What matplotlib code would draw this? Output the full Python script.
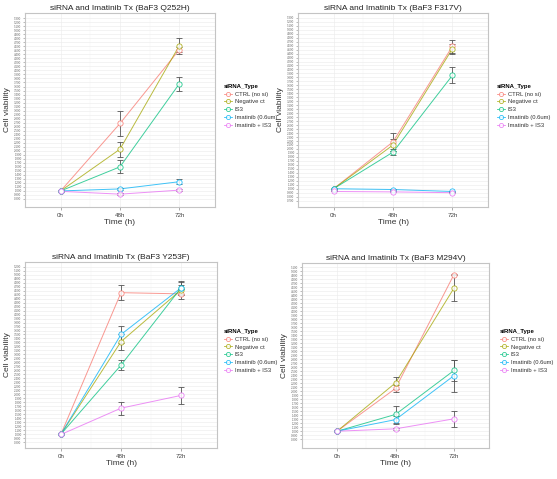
import matplotlib
matplotlib.use("Agg")
import matplotlib.pyplot as plt
import numpy as np
from matplotlib.lines import Line2D

plt.rcParams['font.family'] = ['Liberation Sans', 'DejaVu Sans']

times = ["0h", "48h", "72h"]
series_names = ["CTRL (no si)", "Negative ct", "IS3", "Imatinib (0.6um)", "Imatinib + IS3"]
colors = ["#F8766D", "#A3A500", "#00BF7D", "#00B0F6", "#E76BF3"]

titles = ["siRNA and Imatinib Tx (BaF3 Q252H)", "siRNA and Imatinib Tx (BaF3 F317V)",
          "siRNA and Imatinib Tx (BaF3 Y253F)", "siRNA and Imatinib Tx (BaF3 M294V)"]

# panel 1: Q252H
q252h_mean = [[1.00, 2.68, 4.52], [1.00, 2.04, 4.62], [1.00, 1.60, 3.67], [1.00, 1.05, 1.23], [0.99, 0.92, 1.02]]
q252h_err = [[0.0, 0.32, 0.06], [0.0, 0.19, 0.20], [0.0, 0.16, 0.17], [0.0, 0.03, 0.06], [0.0, 0.02, 0.02]]
# panel 2: F317V
f317v_mean = [[1.00, 2.18, 4.58], [1.00, 2.10, 4.52], [1.00, 1.92, 3.85], [1.00, 0.98, 0.93], [0.93, 0.92, 0.90]]
f317v_err = [[0.0, 0.22, 0.16], [0.0, 0.14, 0.12], [0.0, 0.08, 0.20], [0.0, 0.02, 0.02], [0.0, 0.01, 0.01]]
# panel 3: Y253F
y253f_mean = [[1.00, 4.55, 4.52], [1.00, 3.32, 4.62], [1.00, 2.73, 4.67], [1.00, 3.50, 4.67], [0.99, 1.65, 1.97]]
y253f_err = [[0.0, 0.18, 0.12], [0.0, 0.20, 0.12], [0.0, 0.13, 0.15], [0.0, 0.22, 0.18], [0.0, 0.16, 0.21]]
# panel 4: M294V
m294v_mean = [[1.00, 2.07, 4.92], [1.00, 2.21, 4.58], [1.00, 1.42, 2.52], [1.00, 1.29, 2.39], [1.00, 1.06, 1.31]]
m294v_err = [[0.0, 0.08, 0.02], [0.0, 0.15, 0.33], [0.0, 0.22, 0.27], [0.0, 0.10, 0.40], [0.0, 0.03, 0.20]]

means = [q252h_mean, f317v_mean, y253f_mean, m294v_mean]
errs = [q252h_err, f317v_err, y253f_err, m294v_err]
ylims = [(0.60, 5.43), (0.54, 5.42), (0.65, 5.32), (0.58, 5.21)]

W, H = 557, 479
boxes = [(25, 13, 215, 207), (298, 13, 488, 207), (25, 262, 217, 448), (302, 263, 489, 448)]
legend_pos = [(220, 80), (493, 80), (220, 325), (496, 325)]
ylabel_x = [8, 281, 8, 284]

fig = plt.figure(figsize=(W / 100, H / 100), dpi=100)
fig.patch.set_facecolor("white")

x = np.arange(1, len(times) + 1)
for i in range(4):
    l, t, r, b = boxes[i]
    ax = fig.add_axes([l / W, (H - b) / H, (r - l) / W, (b - t) / H])
    ax.set_facecolor("white")
    lo, hi = ylims[i]
    ticks = np.arange(np.ceil((lo + 0.15) * 10) / 10, hi - 0.1, 0.1)
    ax.set_yticks(ticks)
    ax.set_yticklabels([f"{v:.3f}" for v in ticks], fontsize=2.1, color="#666666")
    ax.set_xticks(x)
    ax.set_xticklabels(times, fontsize=4.5, color="#444444")
    ax.set_xticks([1.5, 2.5], minor=True)
    ax.tick_params(axis="y", length=1.5, width=0.4, pad=1, colors="#888888")
    ax.tick_params(axis="x", length=2, width=0.5, pad=2, colors="#888888")
    ax.tick_params(axis="x", which="minor", length=0)
    for lab in ax.get_xticklabels():
        lab.set_color("#444444")
    for lab in ax.get_yticklabels():
        lab.set_color("#666666")
    ax.grid(True, which="major", color="#EBEBEB", linewidth=0.4)
    ax.grid(True, which="minor", axis="x", color="#F4F4F4", linewidth=0.3)
    ax.set_axisbelow(True)
    for sp in ax.spines.values():
        sp.set_color("#C4C4C4")
        sp.set_linewidth(0.8)
    for j in range(len(series_names)):
        m = means[i][j]
        e = errs[i][j]
        ax.plot(x, m, color=colors[j], linewidth=0.7, alpha=0.75, zorder=3)
        ax.errorbar(x, m, yerr=e, fmt="none", ecolor="#555555", elinewidth=0.6, capsize=2.2, capthick=0.6, zorder=4)
        ax.plot(x, m, linestyle="none", marker="o", markersize=3.8, markerfacecolor="white",
                markeredgecolor=colors[j], markeredgewidth=0.6, alpha=0.85, zorder=5)
    ax.set_xlim(0.4, 3.6)
    ax.set_ylim(lo, hi)
    ax.set_title(titles[i], fontsize=6, color="#222222", pad=2)
    ax.set_xlabel("Time (h)", fontsize=6, color="#333333", labelpad=1)
    fig.text(ylabel_x[i] / W, 1 - ((t + b) / 2) / H, "Cell viability", rotation=90,
             fontsize=6, color="#333333", ha="center", va="center")

    handles = [Line2D([0], [0], color=colors[j], linewidth=0.6, alpha=0.8, marker="o", markersize=3,
                      markerfacecolor="white", markeredgecolor=colors[j], markeredgewidth=0.6)
               for j in range(len(series_names))]
    lx, ly = legend_pos[i]
    leg = fig.legend(handles, series_names, loc="upper left", bbox_to_anchor=(lx / W, 1 - ly / H),
                     frameon=False, fontsize=4.2, title="siRNA_Type", title_fontsize=4.3,
                     handlelength=1.4, handletextpad=0.4, labelspacing=0.45, borderpad=0.2)
    leg.get_title().set_fontweight("bold")
    leg._legend_box.align = "left"
    for txt in leg.get_texts():
        txt.set_color("#333333")

fig.savefig("out.png", dpi=100, facecolor="white")
